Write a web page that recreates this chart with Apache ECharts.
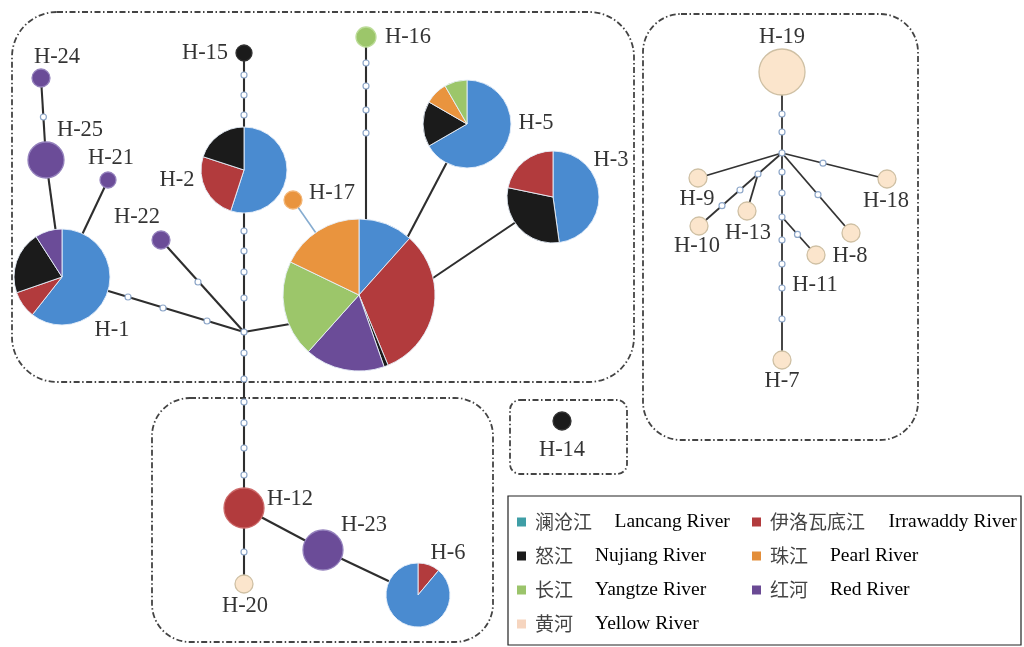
<!DOCTYPE html>
<html><head><meta charset="utf-8">
<script src="https://cdn.jsdelivr.net/npm/echarts@6/dist/echarts.min.js"></script>
<style>html,body{margin:0;padding:0;background:#fff}#c{width:1024px;height:647px}</style>
</head><body><div id="c"></div>
<script>
// ---------------- DATA ----------------
const riversEN = ['Lancang River','Irrawaddy River','Nujiang River','Pearl River','Yangtze River','Red River','Yellow River'];
const riversCN = ['澜沧江','伊洛瓦底江','怒江','珠江','长江','红河','黄河'];
// haplotypes, the rivers present in each (drawing order) and their counts
const hapNames  = ['H-1','H-2','H-3','H-4','H-5','H-6','H-7','H-8','H-9','H-10','H-11','H-12','H-13','H-14','H-15','H-16','H-17','H-18','H-19','H-20','H-21','H-22','H-23','H-24','H-25'];
const hapRivers = [[0,1,2,5],[0,1,2],[0,2,1],[0,1,2,5,4,3],[0,2,3,4],[1,0],[6],[6],[6],[6],[6],[1],[6],[2],[2],[4],[3],[6],[6],[6],[5],[5],[5],[5],[5]];
const hapCounts = [[20,3,7,3],[11,5,4],[11,7,5],[13,36,1,19,23,20],[8,2,1,1],[1,8],[1],[1],[1],[1],[1],[3],[1],[1],[1],[1],[1],[1],[5],[1],[1],[1],[3],[1],[3]];
// network links (haplotypes, median vectors mv*, attachment points a*)
const links = [['H-24','H-25'],['H-25','H-1'],['H-21','H-1'],['H-1','mv1'],['H-22','mv1'],['mv1','H-2'],['H-2','H-15'],
  ['mv1','a1'],['H-17','H-4'],['H-16','a2'],['H-5','a3'],['H-3','a4'],['mv1','H-12'],['H-12','H-20'],['H-12','H-23'],['H-23','H-6'],
  ['H-19','mv2'],['mv2','H-9'],['mv2','mv3'],['mv3','H-10'],['mv3','H-13'],['mv2','H-18'],['mv2','H-8'],['mv2','mv4'],['mv4','H-7'],['mv4','H-11']];
// mutation steps (network coordinates)
const mutationSteps = [[43.4,117],[128,297],[163,308],[207,321],[198,282],
  [244,231],[244,251],[244,272],[244,298],[244,75],[244,95],[244,115],
  [366,63],[366,86],[366,110],[366,133],
  [244,353],[244,379],[244,402],[244,423],[244,448],[244,475],[244,552],
  [782,114],[782,132],[782,172],[782,193],[782,240],[782,264],[782,288],[782,319],
  [740,190],[722,205.7],[823,163.2],[818,194.7],[797.5,234.4]];

// ---------------- LAYOUT / STYLE ----------------
const layout = { // [x, y, radius] in network coordinates
  'H-1':[62,277,48],'H-2':[244,170,43],'H-3':[553,197,46],'H-4':[359,295,76],'H-5':[467,124,44],'H-6':[418,595,32],
  'H-7':[782,360,9],'H-8':[851,233,9],'H-9':[698,178,9],'H-10':[699,226,9],'H-11':[816,255,9],'H-12':[244,508,20],
  'H-13':[747,211,9],'H-14':[562,421,9],'H-15':[244,53,8],'H-16':[366,37,10],'H-17':[293,200,9],'H-18':[887,179,9],
  'H-19':[782,72,23],'H-20':[244,584,9],'H-21':[108,180,8],'H-22':[161,240,9],'H-23':[323,550,20],'H-24':[41,78,9],'H-25':[46,160,18],
  'mv1':[244,332,0],'mv2':[782,153,0],'mv3':[758,174,0],'mv4':[782,217,0],
  'a1':[290,324,0],'a2':[366,222,0],'a3':[405,242,0],'a4':[430,280,0]
};
const labelAt = {
  'H-1':[112,330],'H-2':[177,180],'H-3':[611,160],'H-5':[536,123],'H-6':[448,553],'H-7':[782,381],'H-8':[850,256],
  'H-9':[697,199],'H-10':[697,246],'H-11':[815,285],'H-12':[290,499],'H-13':[748,233],'H-14':[562,450],'H-15':[205,53],
  'H-16':[408,37],'H-17':[332,193],'H-18':[886,201],'H-19':[782,37],'H-20':[245,606],'H-21':[111,158],'H-22':[137,217],
  'H-23':[364,525],'H-24':[57,57],'H-25':[80,130]
};
const riverColors = ['#4a8bd0','#b23b3d','#1b1b1b','#e9943e','#9cc66a','#6b4c98','#fbe5cc'];
const riverBorders = ['#8fb6e3','#cc6a6a','#333333','#f3b677','#bcdc98','#9582bd','#cfc0a4'];
const swatchColors = ['#3f9ea6','#b23b3d','#1b1b1b','#e38e3a','#9bc46b','#6a4a94','#f6d5bf'];
const boxes = [[12,12,622,370,45],[643,14,275,426,38],[152,398,341,244,38],[510,400,117,74,10]];

// ---------------- CHART ----------------
const chart = echarts.init(document.getElementById('c'));
const base = {
  animation:false,
  grid:{left:0,right:0,top:0,bottom:0},
  xAxis:{type:'value',min:0,max:1024,show:false},
  yAxis:{type:'value',min:0,max:647,inverse:true,show:false},
  series:[]
};
chart.setOption(base);
const px = p => chart.convertToPixel({gridIndex:0}, p);
const pxLen = r => px([r,0])[0] - px([0,0])[0];

const series = [];
// links
series.push({
  type:'lines', coordinateSystem:'cartesian2d', silent:true, z:1,
  lineStyle:{color:'#2e2e2e', width:2.1, opacity:1},
  data: links.map(([a,b]) => {
    const d = {coords:[layout[a].slice(0,2), layout[b].slice(0,2)]};
    if (a==='H-17') d.lineStyle = {color:'#86acd0', width:1.6};
    if (layout[a][0] > 640) d.lineStyle = {color:'#333', width:1.8};
    return d;
  })
});
// mutation steps and median vectors
series.push({
  type:'scatter', silent:true, z:3, symbol:'circle', symbolSize:6,
  itemStyle:{color:'#fff', borderColor:'#8ea7c9', borderWidth:1.2, opacity:1},
  data: mutationSteps.concat(['mv1','mv2','mv3','mv4'].map(k=>layout[k].slice(0,2)))
});
// haplotypes
hapNames.forEach((h,i) => {
  const [x,y,r] = layout[h];
  if (hapRivers[i].length === 1) {
    const c = hapRivers[i][0];
    series.push({
      type:'scatter', silent:true, z:4, symbol:'circle', symbolSize: pxLen(r)*2,
      itemStyle:{color:riverColors[c], borderColor:riverBorders[c], borderWidth:1.3, opacity:1},
      data:[{name:h, value:[x,y,hapCounts[i][0]]}]
    });
  } else {
    series.push({
      type:'pie', silent:true, z:4, center: px([x,y]), radius: pxLen(r),
      startAngle:90, clockwise:true, avoidLabelOverlap:false,
      label:{show:false}, labelLine:{show:false}, emphasis:{disabled:true},
      itemStyle:{borderColor:'rgba(232,240,250,0.9)', borderWidth:1},
      data: hapRivers[i].map((c,k)=>({name:riversEN[c], value:hapCounts[i][k], itemStyle:{color:riverColors[c]}}))
    });
  }
});
// labels
series.push({
  type:'scatter', silent:true, z:6, symbolSize:1, itemStyle:{color:'rgba(0,0,0,0)'},
  label:{show:true, position:'inside', formatter:'{b}', fontFamily:'Liberation Serif', fontSize:22.5, color:'#000', align:'center', verticalAlign:'middle'},
  data: Object.keys(labelAt).map(k=>({name:k, value:labelAt[k]}))
});

// boxes + legend (graphic)
const graphic = boxes.map(([x,y,w,h,r]) => ({
  type:'rect', silent:true, z:0, shape:{x,y,width:w,height:h,r},
  style:{fill:null, stroke:'#444', lineWidth:1.8, lineDash:[6,2.5,1.5,2.5]}
}));
graphic.push({type:'rect', silent:true, z:10, shape:{x:508,y:496,width:513,height:149}, style:{fill:'#fff', stroke:'#222', lineWidth:1.2}});
riversEN.forEach((en,k) => {
  const col = k%2, row = Math.floor(k/2);
  const cy = 522 + row*34;
  const sx = col ? 752 : 517;
  const cx = col ? 770 : 535;
  const ex = cx + riversCN[k].length*19.5 + 21;
  graphic.push({type:'rect', silent:true, z:11, shape:{x:sx, y:cy-4.5, width:9, height:9}, style:{fill:swatchColors[k]}});
  graphic.push({type:'text', silent:true, z:11, x:cx, y:cy, style:{text:riversCN[k], font:'19px "Noto Sans CJK SC"', fill:'#444', verticalAlign:'middle'}});
  graphic.push({type:'text', silent:true, z:11, x:ex, y:cy, style:{text:en, font:'19.5px "Liberation Serif"', fill:'#000', verticalAlign:'middle'}});
});

chart.setOption({...base, series, graphic}, true);
</script></body></html>
